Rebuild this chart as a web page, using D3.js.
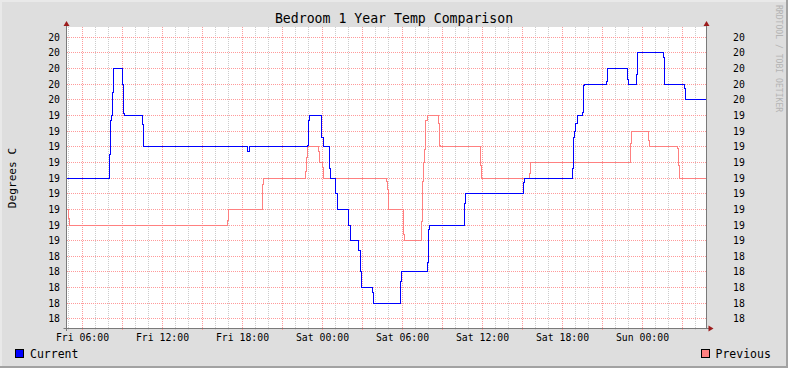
<!DOCTYPE html>
<html>
<head>
<meta charset="utf-8">
<script src="https://cdn.jsdelivr.net/npm/d3@7"></script>
<style>
  body { margin: 0; background: #dedede; }
  svg { display: block; font-family: "DejaVu Sans Mono", monospace; }
</style>
</head>
<body>
<div class="canvas"></div>
<script>
// hours counted from Fri 00:00
const curHours = [4.8, 8.03, 8.10, 8.18, 8.25, 8.33, 9.0, 9.08, 9.15, 10.5, 10.58, 18.40, 18.52,
  22.93, 23.0, 23.08, 23.98, 24.08, 24.53, 24.6, 24.98, 25.13, 26.0, 26.1, 26.75, 26.85, 26.95,
  27.75, 27.83, 29.88, 29.95, 31.88, 31.95, 32.03, 34.65, 34.73, 39.1, 39.18, 42.75, 42.83,
  42.9, 42.98, 43.13, 43.5, 43.58, 43.65, 45.33, 45.4, 46.88, 46.95, 47.6, 47.68, 49.58,
  49.65, 51.15, 51.23, 52.85];
const curTemps = [19.0, 19.15, 19.37, 19.4, 19.55, 19.7, 19.6, 19.41, 19.4, 19.34, 19.2, 19.17, 19.2,
  19.21, 19.37, 19.4, 19.26, 19.2, 19.06, 19.0, 18.9, 18.8, 18.7, 18.6, 18.54, 18.4, 18.3,
  18.27, 18.2, 18.34, 18.4, 18.46, 18.67, 18.7, 18.84, 18.9, 18.97, 19.0, 19.06, 19.26,
  19.3, 19.35, 19.4, 19.42, 19.59, 19.6, 19.62, 19.7, 19.63, 19.6, 19.66, 19.8, 19.77,
  19.6, 19.57, 19.5, 19.5];

const prevHours = [4.8, 5.0, 5.08, 16.93, 17.0, 19.5, 19.58, 22.73, 22.8, 22.88, 23.70, 23.78,
  24.0, 24.08, 28.83, 28.9, 28.98, 30.13, 30.2, 31.43, 31.5, 31.58, 31.65, 31.73, 31.88,
  32.7, 32.78, 32.85, 35.85, 35.93, 39.53, 39.6, 47.15, 47.23, 48.45, 48.53, 50.65, 50.73,
  50.8, 52.85];
const prevTemps = [18.8, 18.74, 18.7, 18.73, 18.8, 18.96, 19.0, 19.04, 19.13, 19.2, 19.17, 19.1,
  19.07, 19.0, 18.98, 18.93, 18.8, 18.64, 18.6, 18.72, 18.98, 19.1, 19.18, 19.37, 19.4,
  19.35, 19.21, 19.2, 19.08, 19.0, 19.03, 19.1, 19.22, 19.3, 19.24, 19.2, 19.19, 19.08,
  19.0, 19.0];

const yTicks = [18.1, 18.2, 18.3, 18.4, 18.5, 18.6, 18.7, 18.8, 18.9, 19.0,
  19.1, 19.2, 19.3, 19.4, 19.5, 19.6, 19.7, 19.8, 19.9];
const yTickLabels = ["18", "18", "18", "18", "18", "19", "19", "19", "19", "19",
  "19", "19", "19", "19", "20", "20", "20", "20", "20"];

const seriesNames = ["Current", "Previous"];
const seriesColors = ["#0000ff", "#ff8080"];

const width = 788;
const height = 368;
const plotLeft = 66.5;
const plotRight = 706.5;
const plotTop = 27;
const plotBottom = 328;
const axisColor = "#7a7a7a";
const arrowColor = "#9c1c1c";
const majorGrid = "#ff9a9a";
const minorGrid = "#cccccc";

const base = new Date(2023, 0, 6); // a Friday
const toDate = h => new Date(base.getTime() + h * 3600 * 1000);

const x = d3.scaleTime().domain([toDate(4.82), toDate(52.82)]).range([plotLeft, plotRight]);
const y = d3.scaleLinear().domain([18.042, 19.966]).range([plotBottom, plotTop]);
const px = v => Math.floor(v) + 0.5;

const svg = d3.select(".canvas").append("svg")
  .attr("width", width).attr("height", height);

function drawFrame() {
  svg.append("rect").attr("width", width).attr("height", height).attr("fill", "#dedede");
  svg.append("rect").attr("x", 0).attr("y", 0).attr("width", width).attr("height", 2).attr("fill", "#e9e9e9");
  svg.append("rect").attr("x", 0).attr("y", 0).attr("width", 2).attr("height", height).attr("fill", "#e9e9e9");
  svg.append("rect").attr("x", 0).attr("y", height - 2).attr("width", width).attr("height", 2).attr("fill", "#a2a2a2");
  svg.append("rect").attr("x", width - 2).attr("y", 0).attr("width", 2).attr("height", height).attr("fill", "#a2a2a2");

  // plot canvas
  svg.append("rect").attr("x", 67).attr("y", plotTop)
    .attr("width", 639).attr("height", plotBottom - plotTop)
    .attr("fill", "#ffffff");
}

function drawGrid() {
  const major = x.ticks(d3.timeHour.every(3));
  const minor = x.ticks(d3.timeHour.every(1)).filter(d => d.getHours() % 3 !== 0);

  svg.append("g").selectAll("line").data(minor).join("line")
    .attr("x1", d => px(x(d))).attr("x2", d => px(x(d)))
    .attr("y1", plotTop).attr("y2", plotBottom + 2)
    .attr("stroke", minorGrid)
    .attr("stroke-dasharray", "1 1");

  svg.append("g").selectAll("line").data(major).join("line")
    .attr("x1", d => px(x(d))).attr("x2", d => px(x(d)))
    .attr("y1", plotTop).attr("y2", plotBottom + 3)
    .attr("stroke", majorGrid)
    .attr("stroke-dasharray", "1 1");

  svg.append("g").selectAll("line").data(yTicks).join("line")
    .attr("x1", 67).attr("x2", 706)
    .attr("y1", d => px(y(d))).attr("y2", d => px(y(d)))
    .attr("stroke", majorGrid)
    .attr("stroke-dasharray", "1 1");
}

function drawAxes() {
  svg.append("line").attr("x1", plotLeft).attr("x2", plotLeft)
    .attr("y1", plotTop - 3).attr("y2", plotBottom + 3)
    .attr("stroke", axisColor);
  svg.append("line").attr("x1", plotRight).attr("x2", plotRight)
    .attr("y1", plotTop - 3).attr("y2", plotBottom)
    .attr("stroke", axisColor);
  svg.append("line").attr("x1", plotLeft - 3).attr("x2", plotRight + 3)
    .attr("y1", plotBottom + 0.5).attr("y2", plotBottom + 0.5)
    .attr("stroke", axisColor);

  // arrows
  [plotLeft, plotRight].forEach(ax => {
    svg.append("path")
      .attr("d", `M${ax - 3},${plotTop - 1}L${ax + 3},${plotTop - 1}L${ax},${plotTop - 6}Z`)
      .attr("fill", arrowColor);
  });
  svg.append("path")
    .attr("d", `M${plotRight + 2},${plotBottom - 2.5}L${plotRight + 2},${plotBottom + 3.5}L${plotRight + 7},${plotBottom + 0.5}Z`)
    .attr("fill", arrowColor);

  // y labels, both sides
  svg.append("g").selectAll("text").data(yTicks).join("text")
    .attr("x", 60).attr("y", d => y(d) + 3.5)
    .attr("text-anchor", "end")
    .attr("font-size", "9.8px")
    .text((d, i) => yTickLabels[i]);

  svg.append("g").selectAll("text").data(yTicks).join("text")
    .attr("x", 733).attr("y", d => y(d) + 3.5)
    .attr("font-size", "9.8px")
    .text((d, i) => yTickLabels[i]);

  // x labels
  const fmt = d3.timeFormat("%a %H:%M");
  svg.append("g").selectAll("text").data(x.ticks(d3.timeHour.every(6))).join("text")
    .attr("x", d => px(x(d))).attr("y", 341)
    .attr("text-anchor", "middle")
    .attr("font-size", "9.8px")
    .text(d => fmt(d));
}

function drawSeries(hours, temps, color) {
  const pts = hours.map((h, i) => ({ t: toDate(h), v: temps[i] }));
  const line = d3.line()
    .x(d => x(d.t))
    .y(d => y(d.v))
    .curve(d3.curveStepAfter);
  svg.append("path").datum(pts)
    .attr("d", line)
    .attr("fill", "none")
    .attr("stroke", color)
    .attr("stroke-width", 1)
    .attr("shape-rendering", "crispEdges");
}

function drawTexts() {
  svg.append("text").attr("x", 394).attr("y", 23)
    .attr("text-anchor", "middle")
    .attr("font-size", "13.2px")
    .text("Bedroom 1 Year Temp Comparison");

  svg.append("text")
    .attr("transform", "translate(15.5,178) rotate(-90)")
    .attr("text-anchor", "middle")
    .attr("font-size", "11.2px")
    .text("Degrees C");

  svg.append("text")
    .attr("transform", "translate(776,5) rotate(90)")
    .attr("font-size", "8.1px")
    .attr("fill", "#b4b4b4")
    .text("RRDTOOL / TOBI OETIKER");

  // legend
  svg.append("rect").attr("x", 15.5).attr("y", 349.5).attr("width", 8).attr("height", 8)
    .attr("fill", seriesColors[0]).attr("stroke", "#000");
  svg.append("text").attr("x", 30).attr("y", 358.3)
    .attr("font-size", "11.5px").text(seriesNames[0]);

  svg.append("rect").attr("x", 701.5).attr("y", 349.5).attr("width", 8).attr("height", 8)
    .attr("fill", seriesColors[1]).attr("stroke", "#000");
  svg.append("text").attr("x", 715.5).attr("y", 358.3)
    .attr("font-size", "11.5px").text(seriesNames[1]);
}

function main() {
  drawFrame();
  drawGrid();
  drawSeries(prevHours, prevTemps, seriesColors[1]);
  drawSeries(curHours, curTemps, seriesColors[0]);
  drawAxes();
  drawTexts();
}

main();
</script>
</body>
</html>
